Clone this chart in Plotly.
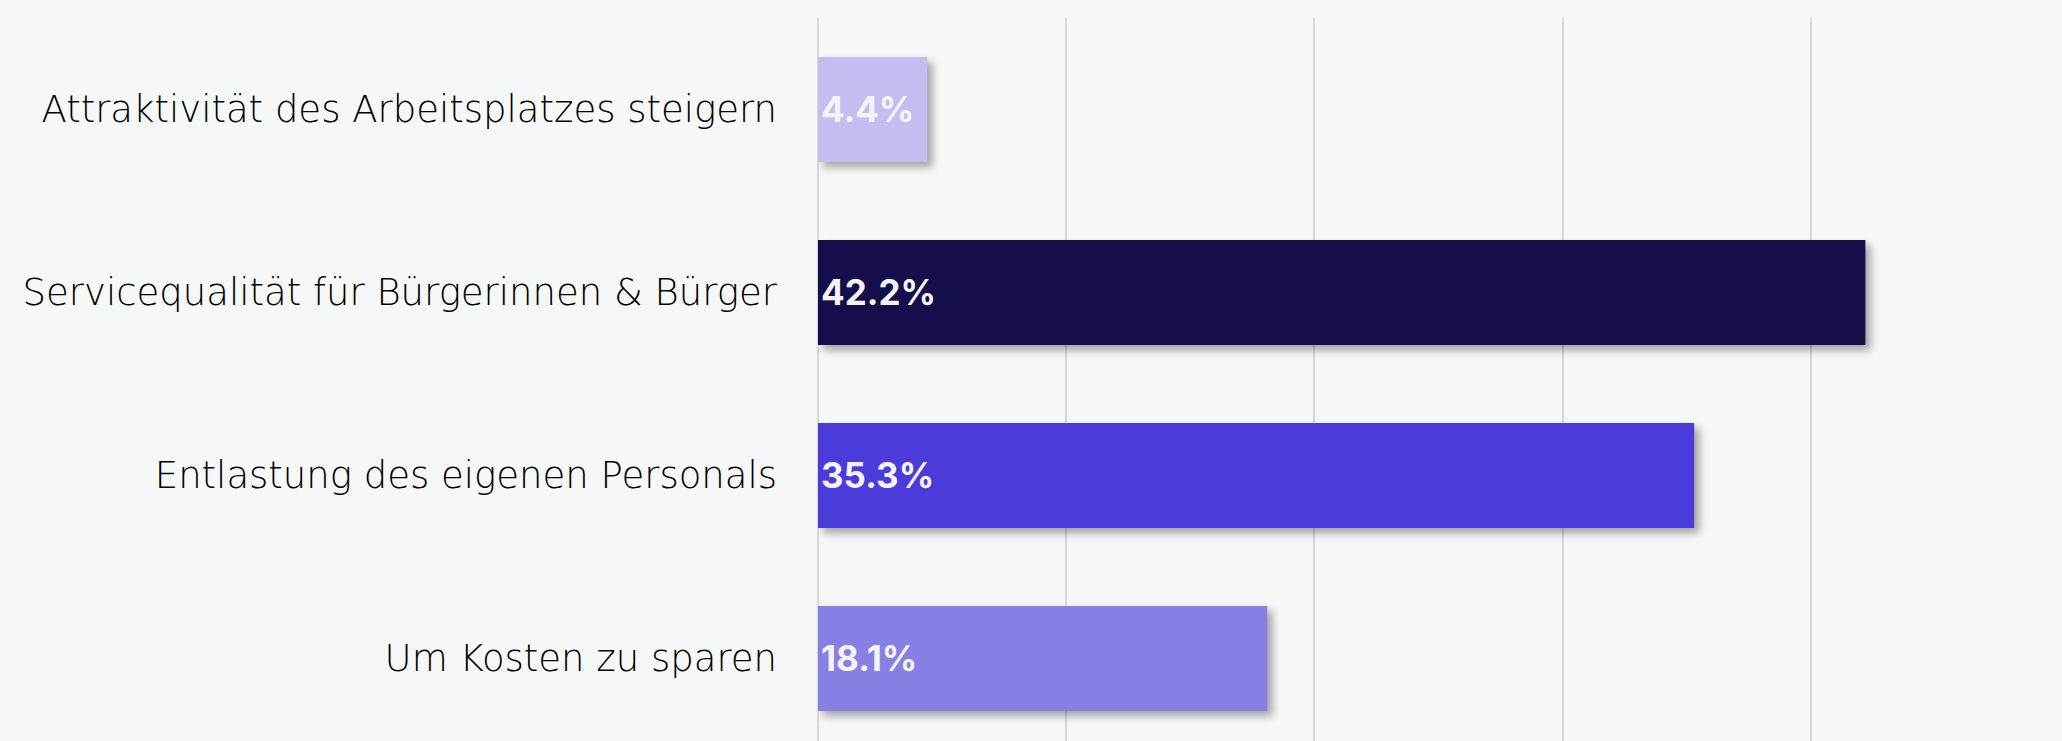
import plotly.graph_objects as go

CATEGORIES = ["Attraktivität des Arbeitsplatzes steigern",
              "Servicequalität für Bürgerinnen & Bürger",
              "Entlastung des eigenen Personals",
              "Um Kosten zu sparen"]
VALUES = [4.4, 42.2, 35.3, 18.1]
LABELS = ["4.4%", "42.2%", "35.3%", "18.1%"]
BAR_COLORS = ["#c3bdf0", "#140e4a", "#4b3bdb", "#877fe3"]

BG = "#f6f8f7"

fig = go.Figure(go.Bar(
    x=VALUES,
    y=CATEGORIES,
    orientation='h',
    marker=dict(color=BAR_COLORS, line=dict(width=0)),
    text=LABELS,
    textposition='inside',
    insidetextanchor='start',
    constraintext='none',
    textfont=dict(family="Inter", size=35, color="#f4f4f8", weight="bold"),
    hoverinfo='skip',
))

fig.update_layout(
    width=2062,
    height=741,
    paper_bgcolor=BG,
    plot_bgcolor=BG,
    showlegend=False,
    bargap=0.426,
    margin=dict(l=818, r=3, t=18, b=0),
    xaxis=dict(
        range=[0, 50],
        dtick=10,
        showticklabels=False,
        showgrid=True,
        gridcolor="#d8d8d8",
        gridwidth=2,
        zeroline=True,
        zerolinecolor="#d8d8d8",
        zerolinewidth=2,
        showline=False,
        fixedrange=True,
    ),
    yaxis=dict(
        type="category",
        categoryorder="array",
        categoryarray=CATEGORIES,
        range=[3.451, -0.5],
        showgrid=False,
        showline=False,
        ticks="",
        ticklabelstandoff=40,
        tickfont=dict(family="DejaVu Sans", size=37, color="#000000", weight=300),
        fixedrange=True,
    ),
)

# page margin off, and a soft drop shadow under the bars like the original
post_js = """
document.body.style.margin = '0';
document.body.style.background = '%s';
document.querySelectorAll('.barlayer .point path').forEach(function(p) {
    p.style.filter = 'drop-shadow(5px 5px 4px rgba(0,0,0,0.35))';
});
""" % BG

fig.write_html("out.html", post_script=post_js, config=dict(displayModeBar=False))
